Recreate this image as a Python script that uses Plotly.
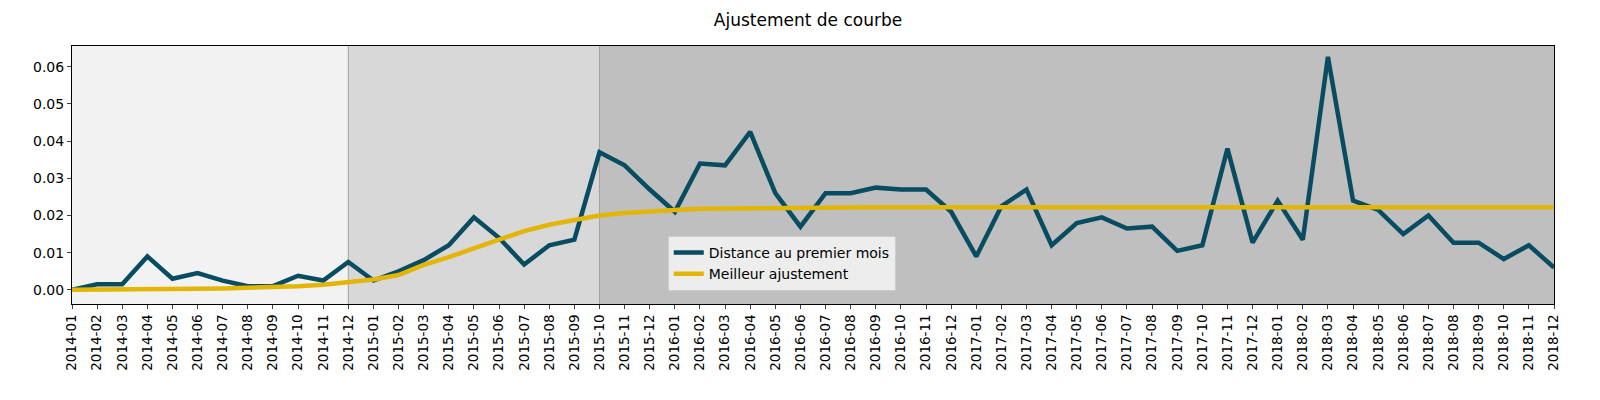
import plotly.graph_objs as go

months = [f"{y}-{m:02d}" for y in range(2014, 2019) for m in range(1, 13)]

distance = [0.000, 0.0015, 0.0015, 0.009, 0.003, 0.0045, 0.0025, 0.001, 0.001, 0.0038,
            0.0025, 0.0075, 0.0025, 0.005, 0.008, 0.012, 0.0195, 0.014, 0.0068, 0.012,
            0.0135, 0.037, 0.0335, 0.027, 0.021, 0.034, 0.0335, 0.0425, 0.026, 0.017,
            0.026, 0.026, 0.0275, 0.027, 0.027, 0.021, 0.009, 0.0225, 0.027, 0.012,
            0.018, 0.0195, 0.0165, 0.017, 0.0105, 0.012, 0.038, 0.0127, 0.024, 0.0135,
            0.0627, 0.024, 0.0215, 0.015, 0.020, 0.0127, 0.0127, 0.0083, 0.012, 0.006]

fit = [0.0000, 0.0000, 0.0001, 0.0001, 0.0002, 0.0003, 0.0004, 0.0005, 0.0007, 0.0010,
       0.0014, 0.0020, 0.0028, 0.0040, 0.0067, 0.0088, 0.0110, 0.0135, 0.0158, 0.0175,
       0.0188, 0.0200, 0.0207, 0.0212, 0.0215, 0.0218, 0.0219, 0.0220, 0.0221, 0.0221] + [0.0222] * 30

# periods: index boundaries in months
periods = [(0, 11, "#f2f2f2"), (11, 21, "#d8d8d8"), (21, 59, "#bfbfbf")]

fig = go.Figure()
fig.add_trace(go.Scatter(x=months, y=distance, mode="lines", name="Distance au premier mois",
                         line=dict(color="#084c61", width=4.5)))
fig.add_trace(go.Scatter(x=months, y=fit, mode="lines", name="Meilleur ajustement",
                         line=dict(color="#e3b505", width=4.5)))

for x0, x1, col in periods:
    fig.add_shape(type="rect", xref="x", yref="paper", x0=x0, x1=x1, y0=0, y1=1,
                  fillcolor=col, line_width=0, layer="below")
for x0 in (11, 21):
    fig.add_shape(type="line", xref="x", yref="paper", x0=x0, x1=x0, y0=0, y1=1,
                  line=dict(color="#a0a0a0", width=1), layer="below")

fig.update_layout(
    width=1600, height=400,
    margin=dict(l=64, r=54, t=38, b=104),
    paper_bgcolor="white", plot_bgcolor="white",
    font=dict(family="DejaVu Sans", size=14, color="black"),
    title=dict(text="Ajustement de courbe", x=0.5, xanchor="center", y=0.985, yanchor="top",
               font=dict(size=17)),
    legend=dict(x=0.402, y=0.264, xanchor="left", yanchor="top",
                bgcolor="rgba(242,242,242,0.9)", bordercolor="#cccccc", borderwidth=1,
                font=dict(size=14)),
    xaxis=dict(type="category", range=[0, 59], tickangle=-90, showgrid=False, automargin=False,
               ticks="outside", ticklen=4, showline=True, linecolor="black", mirror=True,
               tickfont=dict(size=13.5)),
    yaxis=dict(range=[-0.0038, 0.0656], dtick=0.01, tickformat=".2f", showgrid=False,
               automargin=False, zeroline=False, ticks="outside", ticklen=4, showline=True,
               linecolor="black", mirror=True, tickfont=dict(size=14)),
)

fig.write_html("out.html")
